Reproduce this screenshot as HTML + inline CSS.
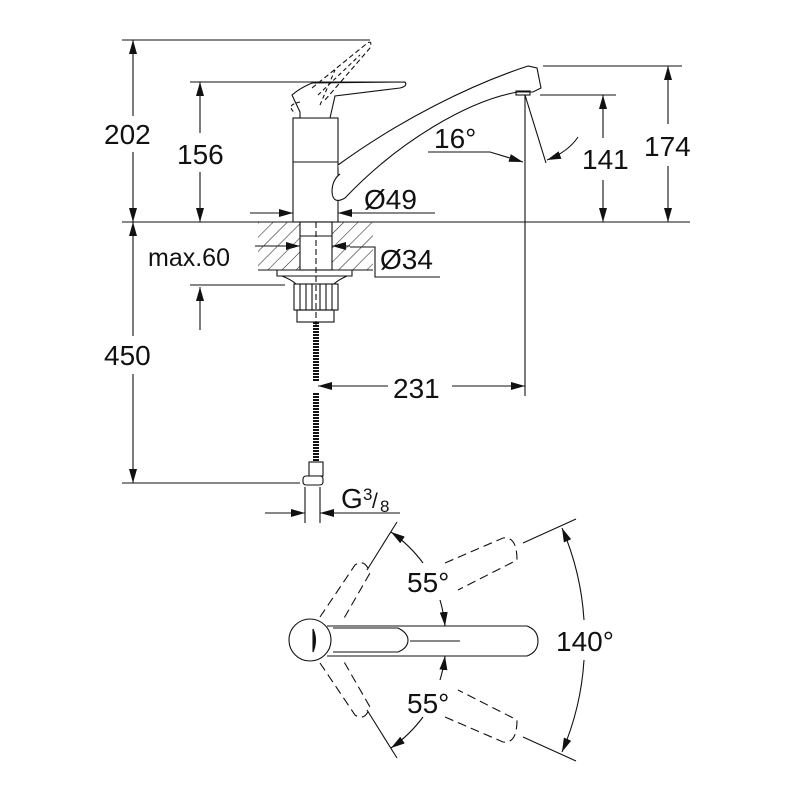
<!DOCTYPE html>
<html><head><meta charset="utf-8"><style>
html,body{margin:0;padding:0;background:#fff}
svg{display:block}
text{font-family:"Liberation Sans",sans-serif;font-size:28px;fill:#111}
</style></head><body>
<svg width="800" height="800" viewBox="0 0 800 800" xmlns="http://www.w3.org/2000/svg">
<defs>
<marker id="a" viewBox="0 0 14 8" refX="14" refY="4" markerWidth="14" markerHeight="8" markerUnits="userSpaceOnUse" orient="auto-start-reverse"><path d="M0,0 L14,4 L0,8 z" fill="#111"/></marker>
<pattern id="h" width="10" height="10" patternUnits="userSpaceOnUse" patternTransform="rotate(45)"><line x1="0" y1="0" x2="0" y2="10" stroke="#222" stroke-width="1.1"/></pattern>
</defs>
<g stroke="#111" stroke-width="1.1" fill="none">
<line x1="122" y1="222" x2="690" y2="222"/>
<line x1="122" y1="40" x2="370" y2="40"/>
<line x1="190" y1="82" x2="400" y2="82"/>
<line x1="190" y1="285" x2="285" y2="285"/>
<line x1="122" y1="483" x2="300" y2="483"/>
<line x1="540" y1="95" x2="616" y2="95"/>
<line x1="543" y1="66" x2="682" y2="66"/>
<line x1="525" y1="95" x2="525" y2="396"/>
<line x1="133" y1="40" x2="133" y2="116" marker-start="url(#a)"/>
<line x1="133" y1="152" x2="133" y2="222" marker-end="url(#a)"/>
<line x1="133" y1="222" x2="133" y2="336" marker-start="url(#a)"/>
<line x1="133" y1="374" x2="133" y2="483" marker-end="url(#a)"/>
<line x1="200" y1="82" x2="200" y2="133" marker-start="url(#a)"/>
<line x1="200" y1="172" x2="200" y2="222" marker-end="url(#a)"/>
<line x1="200" y1="330" x2="200" y2="287" marker-end="url(#a)"/>
<line x1="603" y1="95" x2="603" y2="138" marker-start="url(#a)"/>
<line x1="603" y1="180" x2="603" y2="222" marker-end="url(#a)"/>
<line x1="668" y1="66" x2="668" y2="124" marker-start="url(#a)"/>
<line x1="668" y1="166" x2="668" y2="222" marker-end="url(#a)"/>
<line x1="250" y1="213" x2="293" y2="213" marker-end="url(#a)"/>
<line x1="435" y1="213" x2="338" y2="213" marker-end="url(#a)"/>
<line x1="255" y1="246" x2="300" y2="246" marker-end="url(#a)"/>
<line x1="350" y1="246" x2="332" y2="246" marker-end="url(#a)"/>
<polyline points="350,247 375,247 375,277 440,277"/>
<line x1="318" y1="386" x2="388" y2="386" marker-start="url(#a)"/>
<line x1="452" y1="386" x2="525" y2="386" marker-end="url(#a)"/>
<line x1="305" y1="487" x2="305" y2="523"/>
<line x1="320" y1="487" x2="320" y2="523"/>
<line x1="265" y1="513" x2="305" y2="513" marker-end="url(#a)"/>
<line x1="400" y1="513" x2="320" y2="513" marker-end="url(#a)"/>
<line x1="525" y1="95" x2="546" y2="163"/>
<polyline points="428,152 490,152 523,162" marker-end="url(#a)"/>
<path d="M578,137 Q568,152 547,160" marker-end="url(#a)"/>
<rect x="293" y="118" width="45" height="104" fill="#fff"/>
<line x1="293" y1="162" x2="338" y2="162"/>
<path d="M338,165 C400,120 470,85 528,66 L537,68 L541,88 L533,92 L518,92 C470,100 400,140 345,198 Q333,205 332,192 Q332,180 340,174" fill="#fff"/>
<rect x="516" y="91" width="14" height="4"/>
<path d="M300,112 L292,95 Q300,88 312,83 L405,82 Q408,86 400,88 L335,96 L330,118 L300,118 Z" fill="#fff"/>
<path d="M300,102 Q285,105 295,113" stroke-dasharray="4 2"/>
<path d="M312,88 L365,45 Q373,38 370,48 L325,100" stroke-dasharray="5 3"/>
<path d="M318,95 L360,55 M320,105 L335,70" stroke-dasharray="4 3"/>
<rect x="258" y="222" width="42" height="48" fill="url(#h)" stroke="none"/>
<rect x="332" y="222" width="41" height="48" fill="url(#h)" stroke="none"/>
<line x1="258" y1="270" x2="373" y2="270"/>
<rect x="300" y="222" width="32" height="48" fill="#fff"/>
<line x1="300" y1="236" x2="332" y2="236"/>
<line x1="316" y1="222" x2="316" y2="330" stroke-dasharray="6 3"/>
<path d="M277,270 L277,276 L352,276 L352,270 M282,276 Q292,280 296,284 M347,276 Q338,280 334,284"/>
<rect x="294" y="284" width="44" height="26"/>
<path d="M300,284 V310 M306,284 V310 M312,284 V310 M320,284 V310 M326,284 V310 M332,284 V310"/>
<rect x="297" y="310" width="37" height="12"/>
<line x1="316" y1="322" x2="316" y2="382" stroke-width="6" stroke-dasharray="2 1"/>
<line x1="316" y1="393" x2="316" y2="462" stroke-width="6" stroke-dasharray="2 1"/>
<rect x="309" y="462" width="14" height="14" fill="#fff"/>
<rect x="303" y="476" width="20" height="9" rx="3" fill="#fff"/>
<circle cx="310" cy="640" r="21" fill="#fff"/>
<path d="M313,629 L313,652 Q318,640 313,629Z" fill="#111"/>
<path d="M327,626 L527,626 Q538,630 538,641 Q538,652 527,656 L327,656"/>
<path d="M333,628 L398,628 Q408,633 408,640 Q408,648 398,652 L333,652"/>
<line x1="410" y1="641" x2="460" y2="641"/>
<g stroke-dasharray="9 5">
<path d="M320,617 L355,565 Q365,558 370,573 L343,620"/>
<path d="M320,663 L355,715 Q365,722 370,707 L343,660"/>
<path d="M445,563 L503,538 Q517,536 517,560 L458,590"/>
<path d="M445,717 L503,742 Q517,744 517,720 L458,690"/>
</g>
<line x1="367" y1="570" x2="397" y2="522"/>
<line x1="367" y1="710" x2="397" y2="758"/>
<line x1="523" y1="543" x2="576" y2="519"/>
<line x1="523" y1="737" x2="576" y2="761"/>
<path d="M391,532 A135,135 0 0 1 423,563" marker-start="url(#a)"/>
<path d="M440,600 A135,135 0 0 1 445,626" marker-end="url(#a)"/>
<path d="M445,656 A135,135 0 0 1 440,680" marker-start="url(#a)"/>
<path d="M423,717 A135,135 0 0 1 391,748" marker-end="url(#a)"/>
<path d="M562,528 A275,275 0 0 1 584,620" marker-start="url(#a)"/>
<path d="M584,660 A275,275 0 0 1 562,752" marker-end="url(#a)"/>
</g>
<g>
<text x="104" y="144">202</text>
<text x="177" y="164">156</text>
<text x="104" y="365">450</text>
<text x="364" y="209">Ø49</text>
<text x="148" y="266" style="font-size:25px">max.60</text>
<text x="380" y="269">Ø34</text>
<text x="434" y="148">16°</text>
<text x="582" y="169">141</text>
<text x="644" y="156">174</text>
<text x="393" y="398">231</text>
<text x="341" y="508">G</text>
<text x="363" y="500" style="font-size:17px">3</text>
<text x="372" y="508" style="font-size:21px">/</text>
<text x="380" y="512" style="font-size:17px">8</text>
<text x="407" y="592">55°</text>
<text x="407" y="713">55°</text>
<text x="556" y="651">140°</text>
</g>
</svg>
</body></html>
